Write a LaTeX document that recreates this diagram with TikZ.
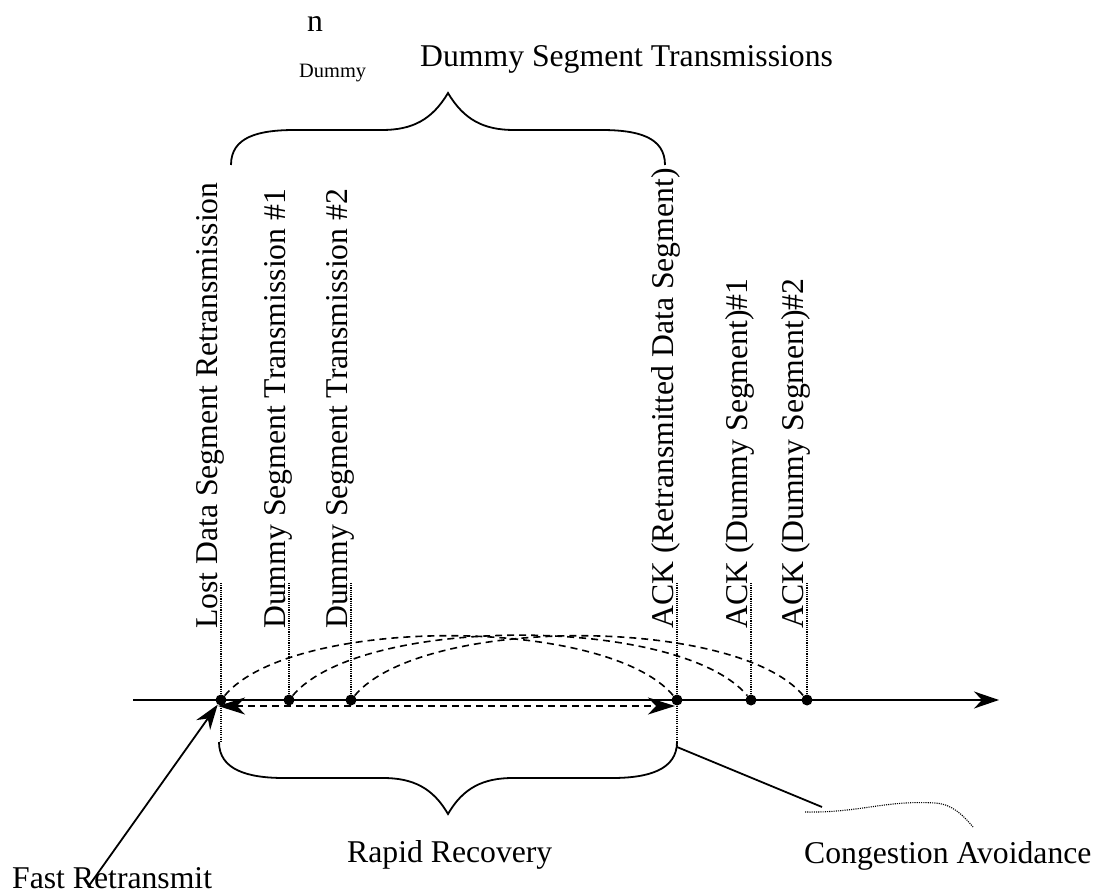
\documentclass[tikz,border=0pt]{standalone}
\usepackage{fontspec}
\setmainfont{Liberation Serif}
\usetikzlibrary{arrows.meta}

\begin{document}
\begin{tikzpicture}[x=1pt,y=-1pt,
  lbl/.style={font=\fontsize{31.7}{38}\selectfont, inner sep=0pt, anchor=base west},
  smalllbl/.style={font=\fontsize{20.4}{24}\selectfont, inner sep=0pt, anchor=base west},
  vlbl/.style={lbl, rotate=90},
  event/.style={circle, fill=black, inner sep=0pt, minimum size=11pt},
  guide/.style={line width=1.1pt, dash pattern=on 1.1pt off 1.1pt},
  trip/.style={line width=1.6pt, dash pattern=on 7pt off 5pt},
  solidline/.style={line width=1.8pt},
]
\useasboundingbox (0,0) rectangle (1096,893);

% time axis
\coordinate (axs) at (133,700);
\coordinate (axe) at (999,700);
\draw[solidline, -{Stealth[length=25pt,width=17pt,inset=8pt]}] (axs) -- (axe);

% guide line end points
\coordinate (glost) at (221,583);  \coordinate (glostb) at (221,742);
\coordinate (gd1) at (289,583);
\coordinate (gd2) at (351,583);
\coordinate (gackr) at (677,583);  \coordinate (gackrb) at (677,747);
\coordinate (gack1) at (751,583);
\coordinate (gack2) at (807,583);

% events on the axis
\node[event] (lost) at (221,700) {};
\node[event] (d1)   at (289,700) {};
\node[event] (d2)   at (351,700) {};
\node[event] (ackr) at (677,700) {};
\node[event] (ack1) at (751,700) {};
\node[event] (ack2) at (807,700) {};

% vertical event labels
\node[vlbl] (tlost) at (217,629) {Lost Data Segment Retransmission};
\node[vlbl] (td1)   at (285,629) {Dummy Segment Transmission \#1};
\node[vlbl] (td2)   at (347,629) {Dummy Segment Transmission \#2};
\node[vlbl] (tackr) at (673,629) {ACK (Retransmitted Data Segment)};
\node[vlbl] (tack1) at (747,629) {ACK (Dummy Segment)\#1};
\node[vlbl] (tack2) at (803,629) {ACK (Dummy Segment)\#2};

% dotted guides
\draw[guide] (glost) -- (lost);
\draw[guide] (lost) -- (glostb);
\draw[guide] (gd1) -- (d1);
\draw[guide] (gd2) -- (d2);
\draw[guide] (gackr) -- (ackr);
\draw[guide] (ackr) -- (gackrb);
\draw[guide] (gack1) -- (ack1);
\draw[guide] (gack2) -- (ack2);

% round trips
\draw[trip] (lost) .. controls +(50:110pt) and +(130:110pt) .. (ackr);
\draw[trip] (d1) .. controls +(50:111pt) and +(130:111pt) .. (ack1);
\draw[trip] (d2) .. controls +(50:110pt) and +(130:110pt) .. (ack2);

% recovery interval
\draw[trip, {Stealth[length=27pt,width=17pt,inset=8pt]}-{Stealth[length=27pt,width=17pt,inset=8pt]}]
  ([shift={(-3pt,-6pt)}]lost.center) -- ([shift={(-2pt,-6pt)}]ackr.center);

% upper brace
\coordinate (tbl) at (231,165);
\coordinate (tbt) at (448,93);
\coordinate (tbr) at (665,165);
\draw[solidline] (tbl) .. controls (231,137) and (258,130) .. (295,130) -- (382,130)
  .. controls (412,130) and (432,120) .. (tbt)
  .. controls (464,120) and (484,130) .. (514,130) -- (601,130)
  .. controls (638,130) and (665,137) .. (tbr);

% lower brace
\coordinate (bbl) at (219,742);
\coordinate (bbt) at (448,814);
\coordinate (bbr) at (677,742);
\draw[solidline] (bbl) .. controls (219,770) and (248,778) .. (284,778) -- (383,778)
  .. controls (413,778) and (433,788) .. (bbt)
  .. controls (463,788) and (483,778) .. (513,778) -- (612,778)
  .. controls (648,778) and (677,770) .. (bbr);

% heading
\node[lbl] (nsym) at (307,32) {n};
\node[smalllbl] (nsub) at (299,78) {Dummy};
\node[lbl] (head) at (420,67) {Dummy Segment Transmissions};

% phase labels
\node[lbl] (rr) at (347,862) {Rapid Recovery};
\node[lbl] (ca) at (804,863) {Congestion Avoidance};
\node[lbl] (fr) at (12,888) {Fast Retransmit};

% pointer to fast retransmit
\coordinate (frtail) at (88,887);
\draw[solidline, -{Stealth[length=25pt,width=17pt,inset=8pt]}] (frtail) -- (lost);

% pointer to congestion avoidance
\coordinate (cgs) at (822,807);
\coordinate (w0) at (805,812);
\coordinate (w1) at (935,803);
\coordinate (w2) at (973,827);
\draw[solidline] (gackrb) -- (cgs);
\draw[guide] (w0) .. controls (860,813) and (885,800) .. (w1)
  .. controls (952,804) and (963,815) .. (w2);
\end{tikzpicture}
\end{document}
